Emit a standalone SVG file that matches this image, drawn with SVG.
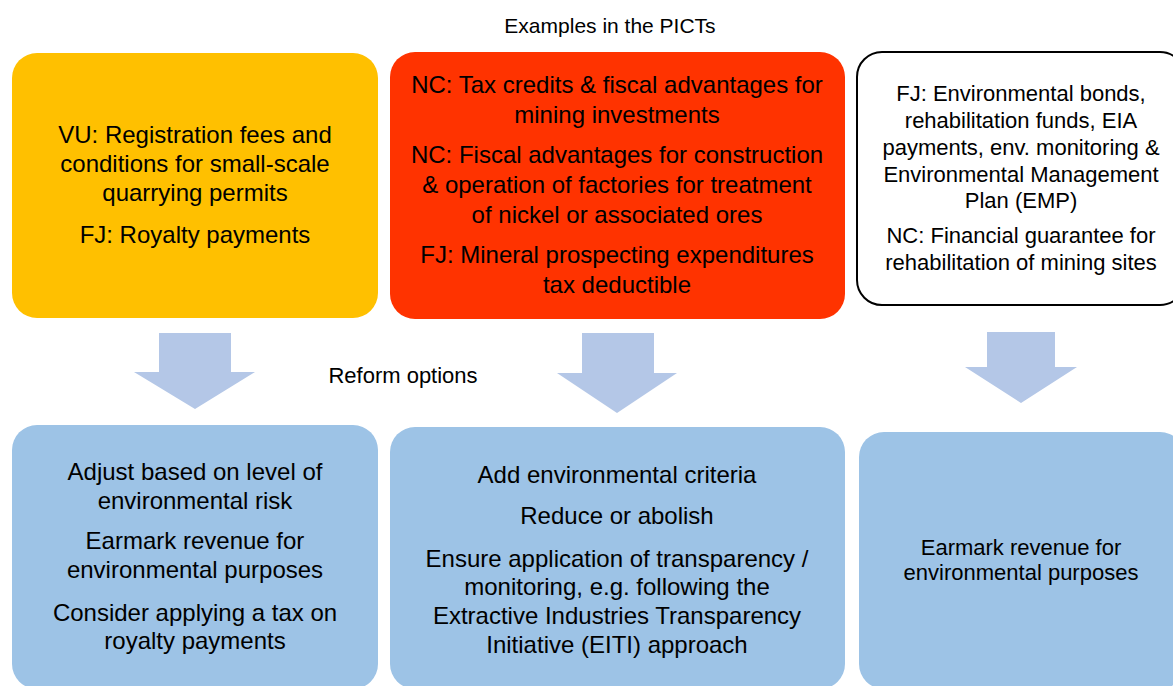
<svg xmlns="http://www.w3.org/2000/svg" width="1173" height="686" viewBox="0 0 1173 686">
<style>
text{font-family:"Liberation Sans",Arial,sans-serif;fill:#000;text-anchor:middle}
.big{font-size:24px}
.mid{font-size:22px}
.lbl{font-size:21px}
.yellow{fill:#FFC000}
.red{fill:#FF3300}
.white{fill:#FFFFFF;stroke:#000;stroke-width:2}
.blue{fill:#9DC3E6}
.arrow{fill:#B4C7E7}
</style>
<rect width="1173" height="686" fill="#FFFFFF"/>
<g id="title-examples"><text class="lbl" x="610" y="33">Examples in the PICTs</text></g>
<g id="title-reform"><text class="lbl" x="403" y="383" style="font-size:22px">Reform options</text></g>

<g id="connectors">
<polygon class="arrow" points="159,333 231,333 231,372 255,372 195,409 134,372 159,372"/>
<polygon class="arrow" points="582,333 654,333 654,373 677,373 617,413 557,373 582,373"/>
<polygon class="arrow" points="987,332 1055,332 1055,367 1077,367 1021,403 965,367 987,367"/>
</g>

<g id="node-vu-fj">
<rect class="yellow" x="12" y="53" width="366" height="265" rx="25"/>
<text class="big" x="195" y="143">VU: Registration fees and</text>
<text class="big" x="195" y="172">conditions for small-scale</text>
<text class="big" x="195" y="201">quarrying permits</text>
<text class="big" x="195" y="243">FJ: Royalty payments</text>
</g>

<g id="node-nc-fj">
<rect class="red" x="390" y="52" width="455" height="267" rx="25"/>
<text class="big" x="617" y="93">NC: Tax credits &amp; fiscal advantages for</text>
<text class="big" x="617" y="123">mining investments</text>
<text class="big" x="617" y="163">NC: Fiscal advantages for construction</text>
<text class="big" x="617" y="193">&amp; operation of factories for treatment</text>
<text class="big" x="617" y="223">of nickel or associated ores</text>
<text class="big" x="617" y="263">FJ: Mineral prospecting expenditures</text>
<text class="big" x="617" y="293">tax deductible</text>
</g>

<g id="node-env-bonds">
<rect class="white" x="857" y="52" width="328" height="253" rx="25"/>
<text class="mid" x="1021" y="101">FJ: Environmental bonds,</text>
<text class="mid" x="1021" y="128">rehabilitation funds, EIA</text>
<text class="mid" x="1021" y="155">payments, env. monitoring &amp;</text>
<text class="mid" x="1021" y="182">Environmental Management</text>
<text class="mid" x="1021" y="208">Plan (EMP)</text>
<text class="mid" x="1021" y="243">NC: Financial guarantee for</text>
<text class="mid" x="1021" y="270">rehabilitation of mining sites</text>
</g>

<g id="node-reform-1">
<rect class="blue" x="12" y="425" width="366" height="264" rx="25"/>
<text class="big" x="195" y="480">Adjust based on level of</text>
<text class="big" x="195" y="509">environmental risk</text>
<text class="big" x="195" y="549">Earmark revenue for</text>
<text class="big" x="195" y="578">environmental purposes</text>
<text class="big" x="195" y="621">Consider applying a tax on</text>
<text class="big" x="195" y="649">royalty payments</text>
</g>

<g id="node-reform-2">
<rect class="blue" x="390" y="427" width="455" height="262" rx="25"/>
<text class="big" x="617" y="483">Add environmental criteria</text>
<text class="big" x="617" y="524">Reduce or abolish</text>
<text class="big" x="617" y="567">Ensure application of transparency /</text>
<text class="big" x="617" y="595">monitoring, e.g. following the</text>
<text class="big" x="617" y="624">Extractive Industries Transparency</text>
<text class="big" x="617" y="653">Initiative (EITI) approach</text>
</g>

<g id="node-reform-3">
<rect class="blue" x="859" y="432" width="326" height="257" rx="25"/>
<text class="mid" x="1021" y="555">Earmark revenue for</text>
<text class="mid" x="1021" y="580">environmental purposes</text>
</g>
</svg>
